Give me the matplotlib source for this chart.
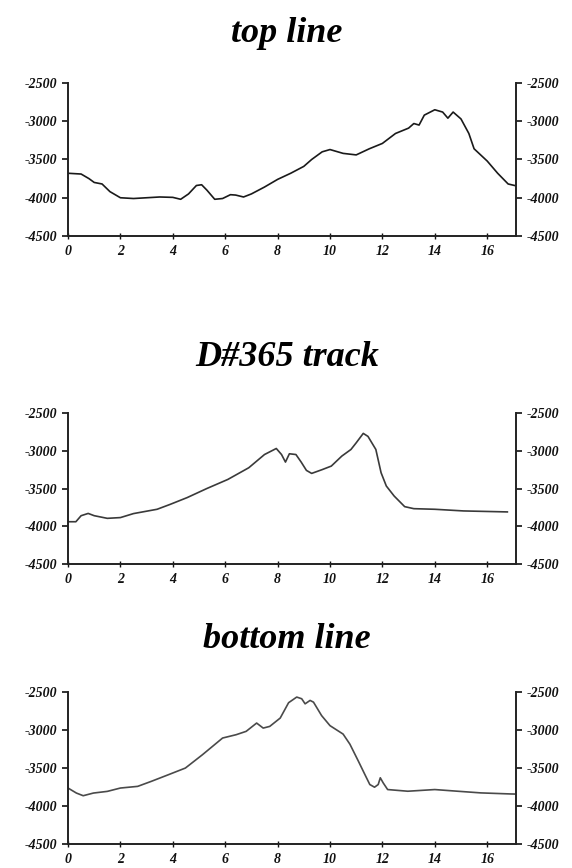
#!/usr/bin/env python3
# -*- coding: utf-8 -*-

import matplotlib
matplotlib.use("Agg")
import matplotlib.pyplot as plt

plt.rcParams['axes.unicode_minus'] = False

# distance along profile vs. depth
top_x = [0, 0.5, 0.8, 1.0, 1.3, 1.6, 2.0, 2.5, 3.0, 3.5, 4.0, 4.3, 4.6, 4.9, 5.1,
         5.3, 5.6, 5.9, 6.2, 6.4, 6.7, 7.0, 7.5, 8.0, 8.5, 9.0, 9.3, 9.7, 10.0,
         10.5, 11.0, 11.5, 12.0, 12.5, 13.0, 13.2, 13.4, 13.6, 14.0, 14.3, 14.5,
         14.7, 15.0, 15.3, 15.5, 16.0, 16.4, 16.8, 17.05]
top_y = [-3680, -3690, -3750, -3800, -3820, -3920, -4000, -4010, -4000, -3990,
         -3995, -4020, -3950, -3840, -3830, -3900, -4020, -4010, -3960, -3965,
         -3990, -3950, -3860, -3760, -3680, -3590, -3500, -3400, -3370, -3420,
         -3440, -3360, -3290, -3160, -3090, -3030, -3050, -2920, -2850, -2880,
         -2960, -2880, -2970, -3160, -3360, -3520, -3680, -3820, -3840]

mid_x = [0, 0.3, 0.5, 0.77, 1.0, 1.5, 2.0, 2.5, 3.4, 3.9, 4.55, 5.3, 6.1, 6.9,
         7.5, 7.95, 8.15, 8.3, 8.45, 8.7, 8.9, 9.1, 9.3, 9.7, 10.05, 10.45, 10.8,
         11.0, 11.27, 11.45, 11.75, 11.95, 12.15, 12.45, 12.85, 13.2, 14.0, 15.1,
         16.77]
mid_y = [-3940, -3940, -3860, -3830, -3860, -3895, -3885, -3832, -3775, -3710,
         -3620, -3500, -3380, -3225, -3050, -2970, -3050, -3150, -3040, -3050,
         -3150, -3260, -3300, -3250, -3203, -3071, -2983, -2895, -2770, -2810,
         -2983, -3291, -3467, -3600, -3740, -3767, -3775, -3797, -3810]

bot_x = [0, 0.32, 0.58, 0.97, 1.5, 2.0, 2.66, 3.18, 3.83, 4.48, 5.13, 5.9, 6.42,
         6.8, 7.2, 7.45, 7.7, 8.1, 8.42, 8.73, 8.92, 9.05, 9.24, 9.37, 9.68, 10.0,
         10.5, 10.76, 11.08, 11.33, 11.52, 11.7, 11.84, 11.92, 12.03, 12.2, 12.97,
         14.0, 14.87, 15.76, 16.9, 17.05]
bot_y = [-3763, -3829, -3864, -3829, -3807, -3763, -3741, -3675, -3588, -3500,
         -3325, -3105, -3061, -3017, -2908, -2974, -2952, -2842, -2640, -2566,
         -2588, -2655, -2610, -2633, -2810, -2942, -3053, -3186, -3407, -3584,
         -3717, -3752, -3717, -3628, -3695, -3783, -3805, -3783, -3805, -3827,
         -3841, -3842]

titles = ["top line", "D#365 track", "bottom line"]
x_ticks = [0, 2, 4, 6, 8, 10, 12, 14, 16]
y_ticks = [-4500, -4000, -3500, -3000, -2500]


def draw(fig, rect, title, title_y, xs, ys, color):
    ax = fig.add_axes(rect)
    ax.plot(xs, ys, color=color, linewidth=1.2)
    ax.set_xlim(0, 17.1)
    ax.set_ylim(-4500, -2500)
    ax.set_xticks(x_ticks)
    ax.set_yticks(y_ticks)
    ax.spines['top'].set_color('none')
    for s in ['left', 'right', 'bottom']:
        ax.spines[s].set_linewidth(1.4)
        ax.spines[s].set_color('#222222')
    ax.tick_params(axis='y', left=True, right=True, labelleft=True,
                   labelright=True, direction='out', length=4, width=1.2,
                   pad=4, colors='#111111')
    ax.tick_params(axis='x', direction='inout', length=5, width=1.0,
                   pad=4, colors='#111111')
    for label in ax.get_xticklabels() + ax.get_yticklabels():
        label.set_fontsize(10)
        label.set_fontweight('bold')
        label.set_fontstyle('italic')
        label.set_family(['Liberation Serif', 'DejaVu Serif'])
    fig.text(0.502, title_y, title, ha='center', va='center', fontsize=26,
             fontweight='bold', fontstyle='italic',
             family=['Liberation Serif', 'DejaVu Serif'])
    return ax


def main():
    fig = plt.figure(figsize=(5.72, 8.68), dpi=100)
    draw(fig, [0.1189, 0.7281, 0.7832, 0.1763], titles[0], 1 - 33 / 868,
         top_x, top_y, '#1a1a1a')
    draw(fig, [0.1189, 0.3502, 0.7832, 0.1740], titles[1], 1 - 357 / 868,
         mid_x, mid_y, '#3a3a3a')
    draw(fig, [0.1189, 0.0276, 0.7832, 0.1751], titles[2], 1 - 640 / 868,
         bot_x, bot_y, '#4a4a4a')
    fig.savefig('out.png', dpi=100)


if __name__ == "__main__":
    main()
